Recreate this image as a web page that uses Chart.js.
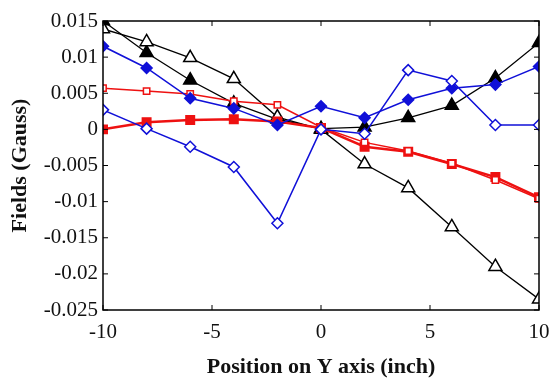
<!DOCTYPE html>
<html>
<head>
<meta charset="utf-8">
<script src="https://cdn.jsdelivr.net/npm/chart.js@4/dist/chart.umd.min.js"></script>
<style>
  html, body { margin: 0; padding: 0; background: #fff; }
  #wrap { width: 550px; height: 381px; }
</style>
</head>
<body>
<div id="wrap"><canvas id="fieldChart" width="550" height="381"></canvas></div>
<script>
// positions along Y axis (inch)
const positions = [-10, -8, -6, -4, -2, 0, 2, 4, 6, 8, 10];

// field readings (Gauss)
const blackFilled = [0.015, 0.0106, 0.0068, 0.0036, 0.0014, 0.0001, 0.0003, 0.0016, 0.0033, 0.0071, 0.012];
const blackOpen   = [0.0139, 0.0121, 0.0099, 0.0070, 0.0017, 0.0, -0.0048, -0.0081, -0.0135, -0.019, -0.0235];
const blueFilled  = [0.0115, 0.0085, 0.0043, 0.0029, 0.0006, 0.0032, 0.0016, 0.0041, 0.0057, 0.0062, 0.0087];
const blueOpen    = [0.0027, 0.0001, -0.0024, -0.0052, -0.0130, 0.0, -0.0006, 0.0082, 0.0067, 0.0006, 0.0006];
const redOpen     = [0.0057, 0.0053, 0.0049, 0.0039, 0.0034, 0.0003, -0.0018, -0.0030, -0.0047, -0.0070, -0.0096];
const redFilled   = [0.0, 0.0010, 0.0013, 0.0014, 0.0011, 0.0002, -0.0024, -0.0031, -0.0048, -0.0066, -0.0094];

const xTicks = [-10, -5, 0, 5, 10];
const yTicks = [-0.025, -0.02, -0.015, -0.01, -0.005, 0, 0.005, 0.01, 0.015];
const yLabels = ['-0.025', '-0.02', '-0.015', '-0.01', '-0.005', '0', '0.005', '0.01', '0.015'];

function pts(vals) {
  return positions.map((x, i) => ({ x: x, y: vals[i] }));
}

const BLUE = '#1010d8';
const RED = '#ee1111';

// box around the plot plus inward tick marks
const framePlugin = {
  id: 'frame',
  afterDraw(chart) {
    const { ctx, chartArea: a, scales } = chart;
    ctx.save();
    ctx.strokeStyle = '#000';
    ctx.lineWidth = 1.5;
    ctx.strokeRect(a.left, a.top, a.right - a.left, a.bottom - a.top);
    ctx.lineWidth = 1;
    ctx.beginPath();
    xTicks.forEach(v => {
      const px = scales.x.getPixelForValue(v);
      ctx.moveTo(px, a.bottom); ctx.lineTo(px, a.bottom - 5);
      ctx.moveTo(px, a.top); ctx.lineTo(px, a.top + 5);
    });
    yTicks.forEach(v => {
      const py = scales.y.getPixelForValue(v);
      ctx.moveTo(a.left, py); ctx.lineTo(a.left + 5, py);
      ctx.moveTo(a.right, py); ctx.lineTo(a.right - 5, py);
    });
    ctx.stroke();
    ctx.restore();
  }
};

function makeSet(label, data, color, style, filled, radius, width) {
  return {
    label: label,
    data: pts(data),
    borderColor: color,
    backgroundColor: filled ? color : '#fff',
    pointBorderColor: color,
    pointBackgroundColor: filled ? color : '#fff',
    pointStyle: style,
    pointRadius: radius,
    pointBorderWidth: 1.5,
    borderWidth: width,
    showLine: true,
    tension: 0
  };
}

window.onload = function () {
  const ctx = document.getElementById('fieldChart').getContext('2d');
  new Chart(ctx, {
    type: 'scatter',
    data: {
      datasets: [
        makeSet('blue open', blueOpen, BLUE, 'rectRot', false, 5.5, 1.5),
        makeSet('blue filled', blueFilled, BLUE, 'rectRot', true, 5.5, 1.5),
        makeSet('red open', redOpen, RED, 'rect', false, 4.5, 1.5),
        makeSet('red filled', redFilled, RED, 'rect', true, 6, 2.5),
        makeSet('black open', blackOpen, '#000', 'triangle', false, 7.5, 1.3),
        makeSet('black filled', blackFilled, '#000', 'triangle', true, 7.5, 1.3)
      ]
    },
    options: {
      responsive: false,
      animation: false,
      layout: { padding: { top: 21, right: 0, left: 0, bottom: 0 } },
      plugins: {
        legend: { display: false },
        tooltip: { enabled: false }
      },
      scales: {
        x: {
          type: 'linear',
          min: -10,
          max: 10,
          afterBuildTicks(scale) { scale.ticks = xTicks.map(v => ({ value: v })); },
          afterFit(scale) {
            scale.height = 71;
            scale.paddingRight = 11; // keep plot right edge near 539
          },
          grid: { display: false, drawTicks: false },
          border: { display: false },
          ticks: {
            padding: 10,
            color: '#111',
            font: { family: 'Liberation Serif', size: 21 }
          },
          title: {
            display: true,
            text: 'Position on Y axis (inch)',
            color: '#111',
            padding: { top: 0, bottom: 0 },
            font: { family: 'Liberation Serif', size: 22, weight: 'bold' }
          }
        },
        y: {
          type: 'linear',
          min: -0.025,
          max: 0.015,
          afterBuildTicks(scale) { scale.ticks = yTicks.map(v => ({ value: v })); },
          afterFit(scale) { scale.width = 103; },
          grid: { display: false, drawTicks: false },
          border: { display: false },
          ticks: {
            padding: 5,
            color: '#111',
            font: { family: 'Liberation Serif', size: 21 },
            callback: function (value) {
              const i = yTicks.findIndex(t => Math.abs(t - value) < 1e-9);
              return i >= 0 ? yLabels[i] : '';
            }
          },
          title: {
            display: true,
            text: 'Fields (Gauss)',
            color: '#111',
            padding: { top: 7, bottom: 0 },
            font: { family: 'Liberation Serif', size: 22, weight: 'bold' }
          }
        }
      }
    },
    plugins: [framePlugin]
  });
};
</script>
</body>
</html>
